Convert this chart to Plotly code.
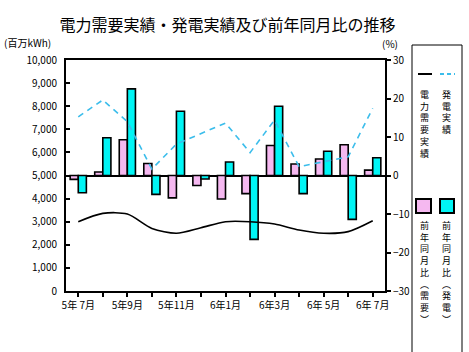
import plotly.graph_objects as go

months = ["5年7月", "5年8月", "5年9月", "5年10月", "5年11月", "5年12月", "6年1月",
          "6年2月", "6年3月", "6年4月", "6年5月", "6年6月", "6年7月"]
tick_text = ["5年 7月", "", "5年9月", "", "5年11月", "", "6年1月", "", "6年3月", "", "6年 5月", "", "6年 7月"]

demand = [3000, 3360, 3330, 2710, 2500, 2740, 3000, 3000, 2900, 2640, 2500, 2570, 3040]
generation = [7540, 8270, 7330, 5280, 6360, 6830, 7270, 5990, 7400, 5380, 5600, 5810, 7910]
demand_yoy = [-1.0, 0.9, 9.3, 3.1, -5.8, -2.6, -6.1, -4.7, 7.8, 3.0, 4.3, 8.0, 1.4]
gen_yoy = [-4.5, 9.8, 22.5, -4.9, 16.7, -0.9, 3.5, -16.6, 18.0, -4.7, 6.3, -11.4, 4.6]

FONT = "Noto Sans CJK JP"
PINK = "#F5B8F0"
CYAN = "#00F5F5"
BLUE = "#3BBDEB"

L, R, T, B = 66, 385, 60, 291
def xp(px):
    return (px - L) / (R - L)
def yp(py):
    return (B - py) / (B - T)

fig = go.Figure()
fig.add_trace(go.Bar(x=months, y=demand_yoy, name="前年同月比（需要）", yaxis="y",
                     marker=dict(color=PINK, line=dict(color="black", width=1.6))))
fig.add_trace(go.Bar(x=months, y=gen_yoy, name="前年同月比（発電）", yaxis="y",
                     marker=dict(color=CYAN, line=dict(color="black", width=1.6))))
fig.add_trace(go.Scatter(x=months, y=demand, name="電力需要実績", yaxis="y2", mode="lines",
                         line=dict(color="black", width=1.6, shape="spline", smoothing=0.8)))
fig.add_trace(go.Scatter(x=months, y=generation, name="発電実績", yaxis="y2", mode="lines",
                         line=dict(color=BLUE, width=1.6, dash="6px,5px")))

shapes = [
    dict(type="rect", xref="paper", yref="paper", x0=xp(412), x1=xp(462), y0=yp(365), y1=yp(45),
         line=dict(color="black", width=1), fillcolor="rgba(0,0,0,0)"),
    dict(type="line", xref="paper", yref="paper", x0=xp(418), x1=xp(432), y0=yp(74), y1=yp(74),
         line=dict(color="black", width=2)),
    dict(type="line", xref="paper", yref="paper", x0=xp(440), x1=xp(455), y0=yp(74), y1=yp(74),
         line=dict(color=BLUE, width=2, dash="4px,3px")),
    dict(type="rect", xref="paper", yref="paper", x0=xp(416), x1=xp(431), y0=yp(213), y1=yp(199),
         line=dict(color="black", width=2), fillcolor=PINK),
    dict(type="rect", xref="paper", yref="paper", x0=xp(440), x1=xp(454), y0=yp(213), y1=yp(199),
         line=dict(color="black", width=2), fillcolor=CYAN),
]

def vtext(s):
    return "<br>".join(list(s))

annotations = [
    dict(text="(百万kWh)", xref="paper", yref="paper", x=xp(2), y=yp(43), xanchor="left", yanchor="middle",
         showarrow=False, font=dict(size=10, family=FONT, color="black")),
    dict(text="(%)", xref="paper", yref="paper", x=xp(390), y=yp(44), xanchor="center", yanchor="middle",
         showarrow=False, font=dict(size=10, family=FONT, color="black")),
    dict(text=vtext("電力需要実績"), xref="paper", yref="paper", x=xp(424), y=yp(86), xanchor="center",
         yanchor="top", showarrow=False, font=dict(size=9, family=FONT, color="black")),
    dict(text=vtext("発電実績"), xref="paper", yref="paper", x=xp(447), y=yp(86), xanchor="center",
         yanchor="top", showarrow=False, font=dict(size=9, family=FONT, color="black")),
    dict(text=vtext("前年同月比︵需要︶"), xref="paper", yref="paper", x=xp(424), y=yp(217), xanchor="center",
         yanchor="top", showarrow=False, font=dict(size=9, family=FONT, color="black")),
    dict(text=vtext("前年同月比︵発電︶"), xref="paper", yref="paper", x=xp(447), y=yp(217), xanchor="center",
         yanchor="top", showarrow=False, font=dict(size=9, family=FONT, color="black")),
]

fig.update_layout(
    width=469, height=352,
    margin=dict(l=L, r=469 - R, t=T, b=352 - B, pad=0),
    paper_bgcolor="white", plot_bgcolor="white",
    showlegend=False,
    barmode="group", bargap=0.34, bargroupgap=0,
    font=dict(family=FONT, size=10, color="black"),
    title=dict(text="電力需要実績・発電実績及び前年同月比の推移", x=0.485, xanchor="center",
               y=1 - 25 / 352, yanchor="middle", font=dict(size=16, family=FONT, color="black")),
    xaxis=dict(type="category", categoryorder="array", categoryarray=months,
               tickvals=months, ticktext=tick_text, tickangle=0,
               ticks="outside", ticklen=4, tickwidth=1.5, tickcolor="black",
               showline=True, linecolor="black", linewidth=2, mirror=True,
               showgrid=False, tickfont=dict(size=10, family=FONT)),
    yaxis=dict(side="right", range=[-30, 30], dtick=10, ticks="outside", ticklen=4, tickwidth=1.5,
               tickcolor="black", showline=True, linecolor="black", linewidth=2,
               showgrid=False, zeroline=True, zerolinecolor="black", zerolinewidth=1.5,
               tickfont=dict(size=10, family=FONT)),
    yaxis2=dict(side="left", overlaying="y", range=[0, 10000], dtick=1000, tickformat=",",
                ticks="inside", ticklen=4, tickwidth=1.5, tickcolor="black",
                showline=True, linecolor="black", linewidth=2, showgrid=False, zeroline=False,
                ticklabelstandoff=5, tickfont=dict(size=10, family=FONT)),
    shapes=shapes, annotations=annotations,
)

fig.write_html("out.html")
